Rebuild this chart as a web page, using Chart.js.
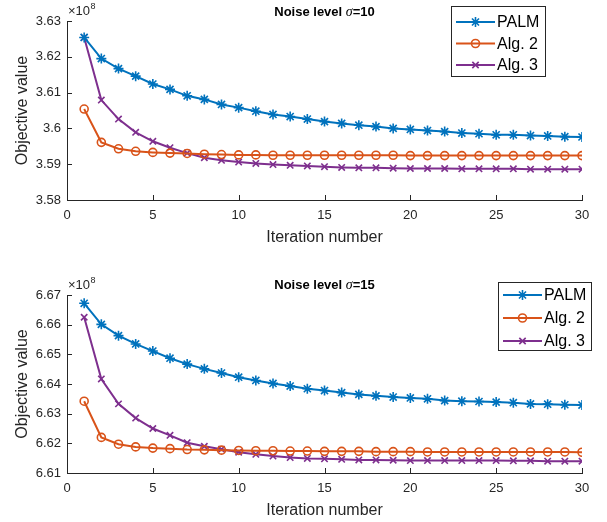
<!DOCTYPE html>
<html>
<head>
<meta charset="utf-8">
<script src="https://cdn.jsdelivr.net/npm/chart.js@4.4.0/dist/chart.umd.min.js"></script>
<style>
  html, body { margin: 0; padding: 0; background: #fff; }
  canvas { position: absolute; left: 0; }
</style>
</head>
<body>
<canvas id="top" width="607" height="261" style="top:0"></canvas>
<canvas id="bottom" width="607" height="261" style="top:261px"></canvas>
<script>
// objective values, in units of 1e8
const iterations = [1, 2, 3, 4, 5, 6, 7, 8, 9, 10, 11, 12, 13, 14, 15, 16, 17, 18, 19, 20, 21, 22, 23, 24, 25, 26, 27, 28, 29, 30];
const seriesNames = ['PALM', 'Alg. 2', 'Alg. 3'];

const palm10 = [3.6254, 3.6195, 3.6167, 3.6146, 3.6124, 3.6109, 3.6091, 3.6081, 3.6067, 3.6058, 3.6048, 3.6039, 3.6033, 3.6026, 3.6019, 3.6014, 3.6009, 3.6005, 3.6000, 3.5997, 3.5994, 3.5991, 3.5987, 3.5985, 3.5982, 3.5982, 3.5980, 3.5979, 3.5977, 3.5976];
const alg2_10 = [3.6054, 3.5961, 3.5943, 3.5936, 3.5933, 3.5931, 3.5930, 3.5928, 3.5927, 3.5926, 3.5926, 3.5925, 3.5925, 3.5925, 3.5925, 3.5925, 3.5925, 3.5925, 3.5925, 3.5924, 3.5924, 3.5924, 3.5924, 3.5924, 3.5924, 3.5924, 3.5924, 3.5924, 3.5924, 3.5924];
const alg3_10 = [3.6254, 3.6079, 3.6026, 3.5989, 3.5964, 3.5946, 3.5931, 3.5918, 3.5911, 3.5906, 3.5902, 3.5899, 3.5897, 3.5895, 3.5893, 3.5891, 3.5890, 3.5890, 3.5889, 3.5888, 3.5888, 3.5888, 3.5887, 3.5887, 3.5887, 3.5887, 3.5886, 3.5886, 3.5886, 3.5886];

const palm15 = [6.6672, 6.6601, 6.6563, 6.6535, 6.6511, 6.6487, 6.6467, 6.6451, 6.6437, 6.6423, 6.6412, 6.6402, 6.6393, 6.6384, 6.6378, 6.6371, 6.6365, 6.6360, 6.6356, 6.6353, 6.6350, 6.6344, 6.6342, 6.6341, 6.6339, 6.6337, 6.6333, 6.6332, 6.6330, 6.6329];
const alg2_15 = [6.6342, 6.6220, 6.6197, 6.6188, 6.6184, 6.6182, 6.6179, 6.6178, 6.6177, 6.6176, 6.6175, 6.6175, 6.6174, 6.6174, 6.6173, 6.6173, 6.6173, 6.6172, 6.6172, 6.6172, 6.6171, 6.6171, 6.6171, 6.6171, 6.6171, 6.6171, 6.6171, 6.6171, 6.6171, 6.6170];
const alg3_15 = [6.6625, 6.6417, 6.6333, 6.6285, 6.6250, 6.6227, 6.6202, 6.6190, 6.6180, 6.6170, 6.6163, 6.6157, 6.6152, 6.6149, 6.6148, 6.6146, 6.6144, 6.6144, 6.6143, 6.6142, 6.6142, 6.6142, 6.6142, 6.6142, 6.6142, 6.6141, 6.6141, 6.6140, 6.6140, 6.6140];

const xTicks = [0, 5, 10, 15, 20, 25, 30];
const yTicks10 = [3.58, 3.59, 3.6, 3.61, 3.62, 3.63];
const yTicks15 = [6.61, 6.62, 6.63, 6.64, 6.65, 6.66, 6.67];

const colors = ['#0072BD', '#D95319', '#7E2F8E'];
const markers = ['star', 'circle', 'crossRot'];
const markerSize = [5, 4, 4.5];
const axisColor = '#262626';
const FONT = '"Liberation Sans", Arial, Helvetica, sans-serif';

function drawMarker(ctx, style, r, x, y, color) {
    ctx.strokeStyle = color;
    ctx.fillStyle = 'rgba(0,0,0,0)';
    ctx.lineWidth = 1.6;
    if (Chart.helpers && Chart.helpers.drawPoint) {
        Chart.helpers.drawPoint(ctx, { pointStyle: style, radius: r, borderWidth: 1.6, rotation: 0 }, x, y);
    }
}

const decor = {
    id: 'decor',
    afterDraw(chart, args, o) {
        const ctx = chart.ctx;
        const a = chart.chartArea;
        const xs = chart.scales.x, ys = chart.scales.y;
        ctx.save();

        // inward tick marks
        ctx.strokeStyle = axisColor;
        ctx.lineWidth = 1;
        ctx.beginPath();
        xs.ticks.forEach(t => {
            const px = Math.round(xs.getPixelForValue(t.value)) + 0.5;
            ctx.moveTo(px, a.bottom);
            ctx.lineTo(px, a.bottom - 5);
        });
        ys.ticks.forEach(t => {
            const py = Math.round(ys.getPixelForValue(t.value)) + 0.5;
            ctx.moveTo(a.left, py);
            ctx.lineTo(a.left + 5, py);
        });
        ctx.stroke();

        // title: Noise level sigma=..
        const parts = [
            ['bold 13px ' + FONT, 'Noise level '],
            ['italic 14px "Liberation Serif", serif', '\u03C3'],
            ['bold 13px ' + FONT, '=' + o.sigma]
        ];
        let w = 0;
        parts.forEach(p => { ctx.font = p[0]; w += ctx.measureText(p[1]).width; });
        let tx = (a.left + a.right) / 2 - w / 2;
        ctx.fillStyle = '#000';
        ctx.textBaseline = 'alphabetic';
        ctx.textAlign = 'left';
        parts.forEach(p => {
            ctx.font = p[0];
            ctx.fillText(p[1], tx, o.titleY);
            tx += ctx.measureText(p[1]).width;
        });

        // exponent label
        ctx.fillStyle = axisColor;
        ctx.font = '13px ' + FONT;
        ctx.fillText('\u00D710', a.left + 1, a.top - 6);
        const ew = ctx.measureText('\u00D710').width;
        ctx.font = '9px ' + FONT;
        ctx.fillText('8', a.left + 1 + ew + 0.5, a.top - 12);

        // legend box
        const L = o.legend;
        ctx.fillStyle = '#fff';
        ctx.fillRect(L.x, L.y, L.w, L.h);
        ctx.strokeStyle = axisColor;
        ctx.lineWidth = 1;
        ctx.strokeRect(L.x + 0.5, L.y + 0.5, L.w, L.h);
        chart.data.datasets.forEach((ds, i) => {
            const ry = L.y + L.first + i * L.step;
            ctx.strokeStyle = ds.borderColor;
            ctx.lineWidth = 2;
            ctx.beginPath();
            ctx.moveTo(L.x + 5, ry);
            ctx.lineTo(L.x + 44, ry);
            ctx.stroke();
            drawMarker(ctx, ds.pointStyle, ds.pointRadius, L.x + 24.5, ry, ds.borderColor);
            ctx.fillStyle = '#000';
            ctx.font = '16px ' + FONT;
            ctx.textBaseline = 'middle';
            ctx.fillText(ds.label, L.x + 46, ry + 1);
        });
        ctx.restore();
    }
};

function makeChart(id, values, yTicks, sigma, areaTop, areaBottom, titleY, labelGap, legend) {
    const H = 261;
    const datasets = values.map((vals, i) => ({
        label: seriesNames[i],
        data: iterations.map((it, k) => ({ x: it, y: vals[k] })),
        borderColor: colors[i],
        backgroundColor: 'rgba(0,0,0,0)',
        borderWidth: 2,
        pointStyle: markers[i],
        pointRadius: markerSize[i],
        pointBorderWidth: 1.6,
        pointBorderColor: colors[i],
        pointBackgroundColor: 'rgba(0,0,0,0)',
        tension: 0
    }));
    return new Chart(document.getElementById(id), {
        type: 'line',
        data: { datasets: datasets },
        options: {
            responsive: false,
            animation: false,
            layout: { padding: { left: 0, right: 25, top: areaTop, bottom: 0 } },
            plugins: {
                legend: { display: false },
                tooltip: { enabled: false },
                decor: { sigma: sigma, titleY: titleY, legend: legend }
            },
            scales: {
                x: {
                    type: 'linear',
                    min: xTicks[0],
                    max: xTicks[xTicks.length - 1],
                    afterBuildTicks: s => { s.ticks = xTicks.map(v => ({ value: v })); },
                    afterFit: s => { s.height = H - areaBottom; },
                    grid: { display: false, drawTicks: false },
                    border: { display: true, color: axisColor, width: 1 },
                    ticks: { color: axisColor, font: { family: FONT, size: 13 }, padding: 8, maxRotation: 0 },
                    title: {
                        display: true, text: 'Iteration number', color: axisColor,
                        font: { family: FONT, size: 16 },
                        padding: { top: 0, bottom: H - areaBottom - labelGap - 9.6 }
                    }
                },
                y: {
                    min: yTicks[0],
                    max: yTicks[yTicks.length - 1],
                    afterBuildTicks: s => { s.ticks = yTicks.map(v => ({ value: v })); },
                    afterFit: s => { s.width = 67; },
                    grid: { display: false, drawTicks: false },
                    border: { display: true, color: axisColor, width: 1 },
                    ticks: {
                        color: axisColor, font: { family: FONT, size: 13 }, padding: 6,
                        callback: v => String(+v.toFixed(2))
                    },
                    title: {
                        display: true, text: 'Objective value', color: axisColor,
                        font: { family: FONT, size: 16 },
                        padding: { top: 13, bottom: 0 }
                    }
                }
            }
        },
        plugins: [decor]
    });
}

makeChart('top', [palm10, alg2_10, alg3_10], yTicks10, 10, 21, 200, 16, 38,
    { x: 451, y: 6, w: 94, h: 70, first: 16, step: 21.5 });
makeChart('bottom', [palm15, alg2_15, alg3_15], yTicks15, 15, 34, 212, 28, 37.5,
    { x: 498, y: 21, w: 93, h: 68, first: 13, step: 23 });
</script>
</body>
</html>
